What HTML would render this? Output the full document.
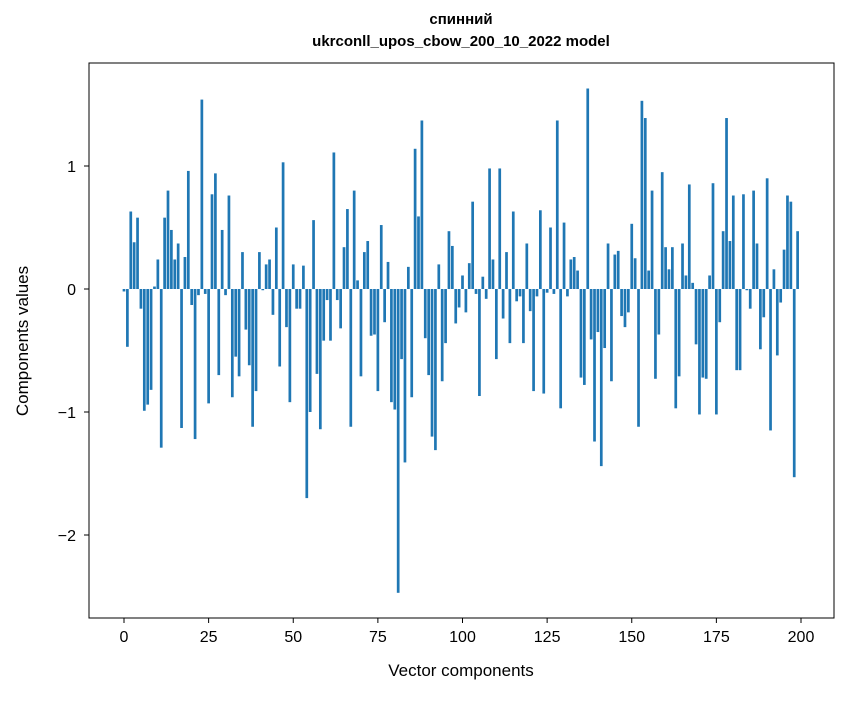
<!DOCTYPE html>
<html><head><meta charset="utf-8"><style>body{margin:0;background:#fff}svg text{font-family:"Liberation Sans","DejaVu Sans",sans-serif}</style></head>
<body>
<svg id="chart" width="847" height="696" xmlns="http://www.w3.org/2000/svg">
<rect width="847" height="696" fill="#fff"/>
<text x="461" y="24" text-anchor="middle" font-size="15" font-weight="bold">спинний</text>
<text x="461" y="46" text-anchor="middle" font-size="15" font-weight="bold">ukrconll_upos_cbow_200_10_2022 model</text>
<g id="bars"></g>
<g id="axes"></g>
<rect x="89" y="63" width="745" height="555" fill="none" stroke="#000" stroke-width="1"/>
<text x="461" y="676" text-anchor="middle" font-size="17">Vector components</text>
<text transform="translate(28,341) rotate(-90)" text-anchor="middle" font-size="17">Components values</text>
</svg>
<script>
const values = [-0.02,-0.47,0.63,0.38,0.58,-0.16,-0.99,-0.94,-0.82,0.02,0.24,-1.29,0.58,0.80,0.48,0.24,0.37,-1.13,0.26,0.96,
-0.13,-1.22,-0.05,1.54,-0.04,-0.93,0.77,0.94,-0.70,0.48,-0.05,0.76,-0.88,-0.55,-0.71,0.30,-0.33,-0.62,-1.12,-0.83,
0.30,-0.01,0.20,0.24,-0.21,0.50,-0.63,1.03,-0.31,-0.92,0.20,-0.16,-0.16,0.19,-1.70,-1.00,0.56,-0.69,-1.14,-0.42,
-0.09,-0.42,1.11,-0.09,-0.32,0.34,0.65,-1.12,0.80,0.07,-0.71,0.30,0.39,-0.38,-0.37,-0.83,0.52,-0.27,0.22,-0.92,
-0.98,-2.47,-0.57,-1.41,0.18,-0.88,1.14,0.59,1.37,-0.40,-0.70,-1.20,-1.31,0.20,-0.75,-0.44,0.47,0.35,-0.28,-0.15,
0.11,-0.19,0.21,0.71,-0.04,-0.87,0.10,-0.08,0.98,0.24,-0.57,0.98,-0.24,0.30,-0.44,0.63,-0.10,-0.06,-0.44,0.37,
-0.18,-0.83,-0.06,0.64,-0.85,-0.03,0.50,-0.04,1.37,-0.97,0.54,-0.06,0.24,0.26,0.15,-0.72,-0.78,1.63,-0.41,-1.24,
-0.35,-1.44,-0.48,0.37,-0.75,0.28,0.31,-0.22,-0.31,-0.19,0.53,0.25,-1.12,1.53,1.39,0.15,0.80,-0.73,-0.37,0.95,
0.34,0.16,0.34,-0.97,-0.71,0.37,0.11,0.85,0.05,-0.45,-1.02,-0.72,-0.73,0.11,0.86,-1.02,-0.27,0.47,1.39,0.39,
0.76,-0.66,-0.66,0.77,-0.01,-0.16,0.80,0.37,-0.49,-0.23,0.90,-1.15,0.16,-0.54,-0.11,0.32,0.76,0.71,-1.53,0.47];
const xTicks = [0,25,50,75,100,125,150,175,200];
const yTicks = [1,0,-1,-2];
const yTickLabels = ["1","0","\u22121","\u22122"];
const NS="http://www.w3.org/2000/svg";
const xs = v => 124 + v*3.385;
const ys = v => 289 - v*123;
const bars=document.getElementById('bars');
values.forEach((v,i)=>{
  const r=document.createElementNS(NS,'rect');
  
  
  const x0=xs(i-0.4), x1=xs(i+0.4);
  r.setAttribute('x',x0); r.setAttribute('width',x1-x0);
  r.setAttribute('y',Math.min(ys(v),ys(0))); r.setAttribute('height',Math.abs(ys(v)-ys(0)));
  r.setAttribute('fill','#1f77b4');
  bars.appendChild(r);
});
const ax=document.getElementById('axes');
xTicks.forEach(t=>{
  const l=document.createElementNS(NS,'line');
  
  
  l.setAttribute('x1',xs(t));l.setAttribute('x2',xs(t));l.setAttribute('y1',618);l.setAttribute('y2',623);l.setAttribute('stroke','#000');
  ax.appendChild(l);
  const tx=document.createElementNS(NS,'text');
  
  
  tx.setAttribute('x',xs(t));tx.setAttribute('y',642);tx.setAttribute('text-anchor','middle');tx.setAttribute('font-size','16');
  tx.textContent=String(t); ax.appendChild(tx);
});
yTicks.forEach((t,i)=>{
  const l=document.createElementNS(NS,'line');
  
  
  l.setAttribute('x1',84);l.setAttribute('x2',89);l.setAttribute('y1',ys(t));l.setAttribute('y2',ys(t));l.setAttribute('stroke','#000');
  ax.appendChild(l);
  const tx=document.createElementNS(NS,'text');
  
  
  tx.setAttribute('x',76);tx.setAttribute('y',ys(t)+6);tx.setAttribute('text-anchor','end');tx.setAttribute('font-size','16');
  tx.textContent=yTickLabels[i]; ax.appendChild(tx);
});
</script>
</body></html>
